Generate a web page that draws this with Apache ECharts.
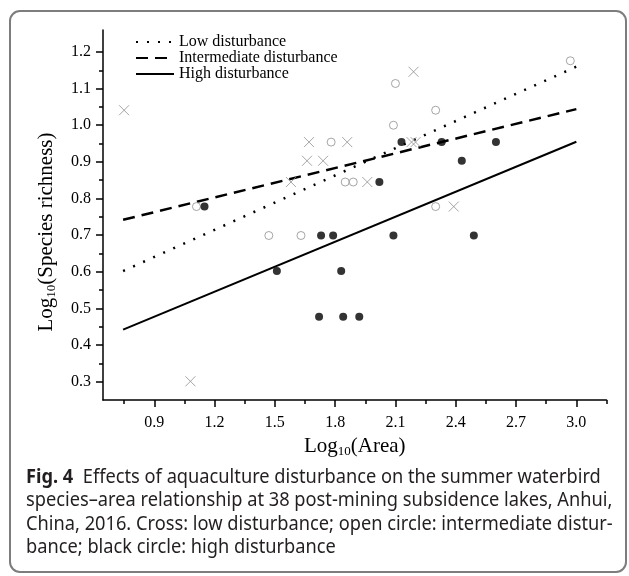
<!DOCTYPE html>
<html>
<head>
<meta charset="utf-8">
<script src="https://cdn.jsdelivr.net/npm/echarts@6/dist/echarts.min.js"></script>
<style>
    html, body { margin: 0; padding: 0; background: #fff; }
    #chart { width: 629px; height: 576px; }
</style>
</head>
<body>
<div id="chart"></div>
<script>
// low disturbance (crosses)
var lowX = [0.75, 2.19, 2.18, 2.20, 1.67, 1.86, 1.66, 1.74, 1.58, 1.96, 2.39, 1.08];
var lowY = [1.041, 1.146, 0.954, 0.954, 0.954, 0.954, 0.903, 0.903, 0.845, 0.845, 0.778, 0.301];
// intermediate disturbance (open circles)
var midX = [2.10, 2.97, 2.30, 2.09, 1.78, 1.85, 1.89, 1.11, 2.30, 1.47, 1.63];
var midY = [1.114, 1.176, 1.041, 1.0, 0.954, 0.845, 0.845, 0.778, 0.778, 0.699, 0.699];
// high disturbance (black circles)
var highX = [2.13, 2.33, 2.60, 2.43, 2.02, 1.15, 1.73, 1.79, 2.09, 2.49, 1.51, 1.83, 1.72, 1.84, 1.92];
var highY = [0.954, 0.954, 0.954, 0.903, 0.845, 0.778, 0.699, 0.699, 0.699, 0.699, 0.602, 0.602, 0.477, 0.477, 0.477];

// fitted lines, end points
var lineX = [0.745, 3.0];
var lowLineY = [0.602, 1.16];
var midLineY = [0.742, 1.044];
var highLineY = [0.442, 0.955];

var xMajor = [0.9, 1.2, 1.5, 1.8, 2.1, 2.4, 2.7, 3.0];
var xMinor = [0.75, 1.05, 1.35, 1.65, 1.95, 2.25, 2.55, 2.85, 3.15];
var yMajor = [0.3, 0.4, 0.5, 0.6, 0.7, 0.8, 0.9, 1.0, 1.1, 1.2];
var yMinor = [0.35, 0.45, 0.55, 0.65, 0.75, 0.85, 0.95, 1.05, 1.15];

var names = ['Low disturbance', 'Intermediate disturbance', 'High disturbance'];

var captionLines = [
    'Effects of aquaculture disturbance on the summer waterbird',
    'species\u2013area relationship at 38 post-mining subsidence lakes, Anhui,',
    'China, 2016. Cross: low disturbance; open circle: intermediate distur-',
    'bance; black circle: high disturbance'
];

function zip(xs, ys) {
    var out = [];
    for (var i = 0; i < xs.length; i++) out.push([xs[i], ys[i]]);
    return out;
}

var serif = '"Liberation Serif", "Times New Roman", serif';
var sans = '"Noto Sans", "Open Sans", sans-serif';
var gray = '#8f8f8f';
var crossPath = 'path://M0,0L10,10M10,0L0,10';

var chart = echarts.init(document.getElementById('chart'));

function axisPair(min, max, major, minor, isX) {
    var main = {
        type: 'value', min: min, max: max,
        splitLine: { show: false },
        axisLine: { show: true, onZero: false, lineStyle: { color: '#000', width: 1.5 } },
        axisTick: { show: true, customValues: major, length: 7, lineStyle: { color: '#000', width: 1.5 } },
        axisLabel: {
            customValues: major, color: '#000', fontFamily: serif, fontSize: 16,
            margin: isX ? 15 : 12,
            formatter: function (v) { return v.toFixed(1); }
        }
    };
    var sub = {
        type: 'value', min: min, max: max,
        splitLine: { show: false },
        axisLine: { show: false, onZero: false },
        axisTick: { show: true, customValues: minor, length: 4, lineStyle: { color: '#000', width: 1.5 } },
        axisLabel: { show: false }
    };
    return [main, sub];
}

var nameRich = {
    a: { fontFamily: serif, fontSize: 21, color: '#000' },
    s: { fontFamily: serif, fontSize: 13, color: '#000', verticalAlign: 'bottom', padding: [10, 0, 0, 0] }
};

var xAxes = axisPair(0.645, 3.15, xMajor, xMinor, true);
xAxes[0].position = 'bottom';
xAxes[1].position = 'bottom';
xAxes[0].name = '{a|Log}{s|10}{a|(Area)}';
xAxes[0].nameLocation = 'middle';
xAxes[0].nameGap = 24;
xAxes[0].nameTextStyle = { rich: nameRich };

var yAxes = axisPair(0.25, 1.26, yMajor, yMinor, false);
yAxes[0].position = 'left';
yAxes[1].position = 'left';
yAxes[0].name = '{a|Log}{s|10}{a|(Species richness)}';
yAxes[0].nameLocation = 'middle';
yAxes[0].nameGap = 45;
yAxes[0].nameTextStyle = { rich: nameRich, padding: [0, 34, 0, 0] };

var graphics = [{
    type: 'rect',
    shape: { x: 10, y: 11, width: 616, height: 561, r: 10 },
    style: { fill: 'none', stroke: '#7d7d7d', lineWidth: 2 },
    silent: true
}];
for (var i = 0; i < captionLines.length; i++) {
    var t = i === 0 ? '{b|Fig. 4}  ' + captionLines[i] : captionLines[i];
    graphics.push({
        type: 'text',
        x: 26, y: 468 + i * 23.5,
        scaleX: 0.96,
        style: {
            text: t,
            fontFamily: sans,
            fontSize: 19,
            fill: '#231f20',
            rich: { b: { fontFamily: sans, fontSize: 19, fontWeight: 'bold', fill: '#231f20' } }
        }
    });
}

chart.setOption({
    animation: false,
    grid: { left: 103, right: 22.5, top: 30, bottom: 176 },
    xAxis: xAxes,
    yAxis: yAxes,
    legend: {
        data: names,
        orient: 'vertical',
        left: 130, top: 29,
        itemWidth: 38, itemHeight: 20, itemGap: 0,
        itemStyle: { opacity: 0 },
        textStyle: { fontFamily: serif, fontSize: 16, color: '#000' },
        selectedMode: false
    },
    graphic: graphics,
    series: [{
        name: 'low-pts',
        type: 'scatter',
        data: zip(lowX, lowY),
        symbol: crossPath,
        symbolSize: 10,
        itemStyle: { color: 'none', borderColor: gray, borderWidth: 1 }
    }, {
        name: 'mid-pts',
        type: 'scatter',
        data: zip(midX, midY),
        symbol: 'circle',
        symbolSize: 8,
        itemStyle: { color: '#fff', borderColor: gray, borderWidth: 1 }
    }, {
        name: 'high-pts',
        type: 'scatter',
        data: zip(highX, highY),
        symbol: 'circle',
        symbolSize: 8,
        itemStyle: { color: '#000' }
    }, {
        name: names[0],
        type: 'line',
        data: zip(lineX, lowLineY),
        symbol: 'none',
        z: 1,
        lineStyle: { color: '#000', width: 2.5, type: [2, 9] },
        itemStyle: { color: '#000' }
    }, {
        name: names[1],
        type: 'line',
        data: zip(lineX, midLineY),
        symbol: 'none',
        z: 1,
        lineStyle: { color: '#000', width: 2.5, type: [12, 7] },
        itemStyle: { color: '#000' }
    }, {
        name: names[2],
        type: 'line',
        data: zip(lineX, highLineY),
        symbol: 'none',
        z: 1,
        lineStyle: { color: '#000', width: 2 },
        itemStyle: { color: '#000' }
    }]
});
</script>
</body>
</html>
